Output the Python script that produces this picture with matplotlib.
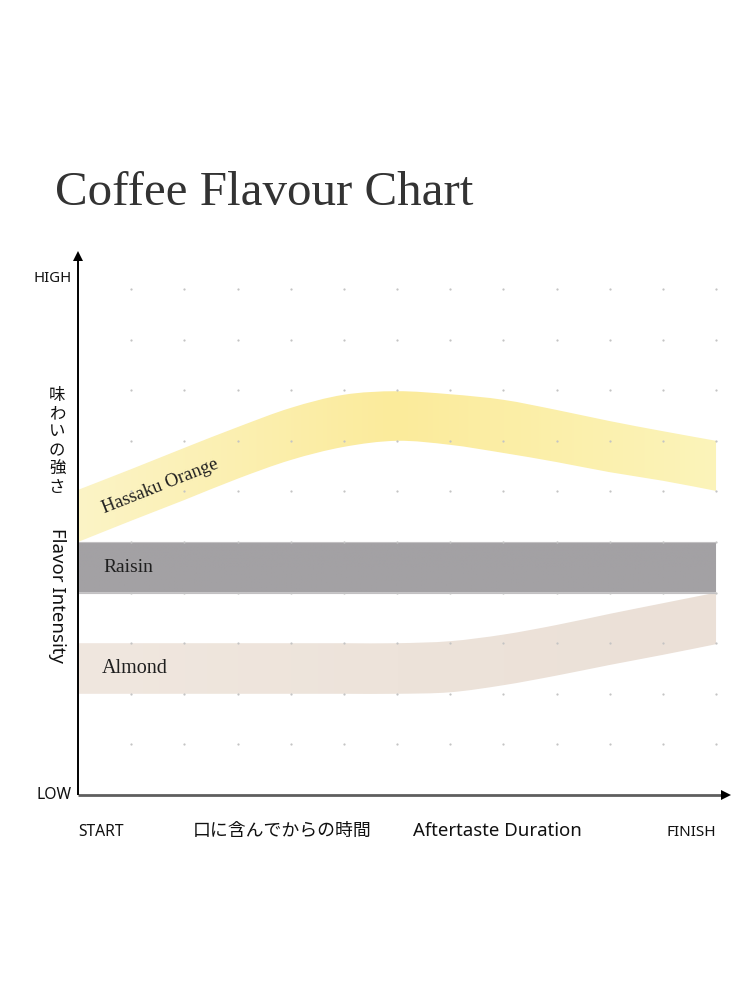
import numpy as np
import matplotlib.pyplot as plt
from matplotlib.path import Path
from matplotlib.patches import PathPatch
from matplotlib.colors import LinearSegmentedColormap

plt.rcParams['font.family'] = ['Noto Sans', 'Noto Sans CJK JP', 'DejaVu Sans']

TITLE = "Coffee Flavour Chart"
X_STEPS = np.arange(0, 13)  # time grid, START .. FINISH

# band edges (intensity, 0 = LOW, 10 = HIGH)
HASSAKU_TOP = [6.03, 6.44, 6.86, 7.27, 7.65, 7.91, 7.98, 7.92, 7.81, 7.61, 7.39, 7.19, 7.0]
HASSAKU_BOTTOM = [5.0, 5.42, 5.83, 6.25, 6.62, 6.88, 7.0, 6.92, 6.76, 6.58, 6.38, 6.21, 6.01]
RAISIN_TOP = [5.0] * 13
RAISIN_BOTTOM = [4.0] * 13
ALMOND_TOP = [3.0, 3.0, 3.0, 3.0, 3.0, 3.0, 3.0, 3.04, 3.17, 3.36, 3.58, 3.79, 4.0]
ALMOND_BOTTOM = [2.0, 2.0, 2.0, 2.0, 2.0, 2.0, 2.0, 2.03, 2.17, 2.36, 2.57, 2.77, 2.98]

FLAVOURS = ["Hassaku Orange", "Raisin", "Almond"]
COLORS = {
    "Hassaku Orange": ["#fcf4c6", "#fbeb9b", "#fcf4ba"],
    "Raisin": ["#a3a1a4", "#a3a1a4", "#a3a1a4"],
    "Almond": ["#f0e7df", "#ede3da", "#ebe0d7"],
}

W, H = 751, 1001
X0_PX, Y0_PX = 78, 795        # origin in pixels
DX_PX, DY_PX = 53.17, 50.6    # one grid step


def smooth_path(xs, ys):
    # catmull-rom through the points, as cubic bezier segments
    pts = np.column_stack([xs, ys])
    n = len(pts)
    verts = [pts[0]]
    codes = [Path.MOVETO]
    for i in range(n - 1):
        p0 = pts[max(i - 1, 0)]
        p1 = pts[i]
        p2 = pts[i + 1]
        p3 = pts[min(i + 2, n - 1)]
        c1 = p1 + (p2 - p0) / 6
        c2 = p2 - (p3 - p1) / 6
        verts += [c1, c2, p2]
        codes += [Path.CURVE4] * 3
    return verts, codes


def band_path(xs, top, bottom):
    top = np.asarray(top, dtype=float)
    bottom = np.asarray(bottom, dtype=float)
    tv, tc = smooth_path(xs, top)
    bv, bc = smooth_path(xs[::-1], bottom[::-1])
    verts = tv + [bv[0]] + bv[1:] + [tv[0]]
    codes = tc + [Path.LINETO] + bc[1:] + [Path.CLOSEPOLY]
    return Path(verts, codes)


fig = plt.figure(figsize=(W / 100, H / 100), dpi=100)
x_max = (742 - X0_PX) / DX_PX
y_max = (Y0_PX - 240) / DY_PX
ax = fig.add_axes([X0_PX / W, (H - Y0_PX) / H,
                   (742 - X0_PX) / W, (Y0_PX - 240) / H])
ax.axis("off")

# dot grid
gx, gy = np.meshgrid(np.arange(1, 13), np.arange(1, 11))
ax.scatter(gx.ravel(), gy.ravel(), s=2.6, color="#c4c4c4", lw=0, zorder=5)

# bands
bands = [(HASSAKU_TOP, HASSAKU_BOTTOM), (RAISIN_TOP, RAISIN_BOTTOM),
         (ALMOND_TOP, ALMOND_BOTTOM)]
for name, (top, bottom) in zip(FLAVOURS, bands):
    path = band_path(X_STEPS.astype(float), top, bottom)
    patch = PathPatch(path, facecolor="none", edgecolor="none")
    ax.add_patch(patch)
    cmap = LinearSegmentedColormap.from_list(name, COLORS[name])
    grad = np.linspace(0, 1, 256).reshape(1, -1)
    lo, hi = min(bottom) - 0.5, max(top) + 0.5
    im = ax.imshow(grad, cmap=cmap, aspect="auto", extent=[0, 12, lo, hi],
                   origin="lower", zorder=2, interpolation="bilinear")
    im.set_clip_path(patch)

# raisin edges
for yy in [RAISIN_TOP[0], RAISIN_BOTTOM[0]]:
    ax.plot([0, 12], [yy, yy], color="#c2c0c2", lw=0.8, zorder=3)

ax.set_xlim(0, x_max)
ax.set_ylim(0, y_max)

# axes with arrows
x_tip = (731 - X0_PX) / DX_PX
y_tip = (Y0_PX - 251) / DY_PX
ax.plot([0, x_tip - 0.1], [0, 0], color="#5e5e5e", lw=2.0, zorder=6,
        solid_capstyle="butt", clip_on=False)
ax.plot([0, 0], [0, y_tip - 0.1], color="black", lw=1.4, zorder=6,
        solid_capstyle="butt", clip_on=False)
ax.plot([x_tip - 0.09], [0], marker=">", ms=7.5, color="black", mew=0,
        zorder=7, clip_on=False)
ax.plot([0], [y_tip - 0.09], marker="^", ms=7.5, color="black", mew=0,
        zorder=7, clip_on=False)

# band labels
serif = "Liberation Serif"
ax.text(1.55, 6.1, "Hassaku Orange", family=serif, fontsize=13.5,
        rotation=21.6, rotation_mode="anchor", ha="center", va="center",
        color="#1f1f1f", zorder=7)
ax.text(0.47, 4.49, "Raisin", family=serif, fontsize=14, ha="left",
        va="center", color="#1f1f1f", zorder=7)
ax.text(0.45, 2.5, "Almond", family=serif, fontsize=14.5, ha="left",
        va="center", color="#1f1f1f", zorder=7)


def px(x, y):
    return x / W, 1 - y / H


# title
fig.text(*px(55, 205), TITLE, family=serif, fontsize=35.3, color="#333333",
         ha="left", va="baseline")

# axis labels
fig.text(*px(72, 279), "HIGH", fontsize=10.7, ha="right", va="center", color="#111111")
fig.text(*px(72, 795), "LOW", fontsize=11.3, ha="right", va="center", color="#111111")
fig.text(*px(78, 832), "START", fontsize=11.3, ha="left", va="center", color="#111111")
fig.text(*px(716, 832), "FINISH", fontsize=11, ha="right", va="center", color="#111111")
fig.text(*px(57, 595), "Flavor Intensity", fontsize=13.4, rotation=270,
         ha="center", va="center", color="#111111")
fig.text(*px(193, 831), "口に含んでからの時間", family=["Noto Sans CJK JP"],
         fontsize=12.9, ha="left", va="center", color="#111111")
fig.text(*px(497, 831), "Aftertaste Duration", fontsize=13.4, ha="center",
         va="center", color="#111111")

for i, ch in enumerate("味わいの強さ"):
    fig.text(*px(57, 395 + i * 18.5), ch, family=["Noto Sans CJK JP"],
             fontsize=11.8, ha="center", va="center", color="#111111")

fig.savefig("out.png", dpi=100, facecolor="white")
